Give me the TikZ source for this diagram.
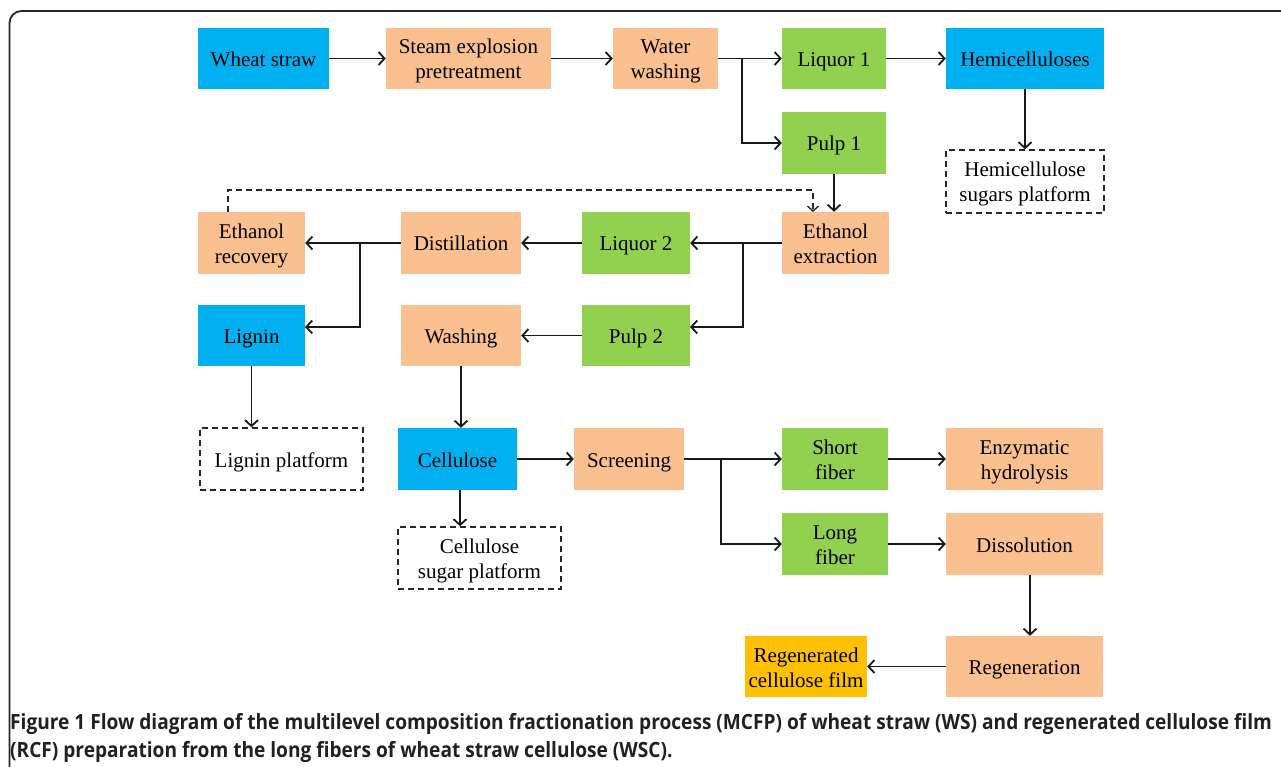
\documentclass[tikz,border=0pt]{standalone}
\usepackage{fontspec}
\setmainfont{Liberation Serif}
\newfontfamily\capfont[FakeStretch=0.91]{Open Sans}
\usetikzlibrary{arrows.meta}
\definecolor{cy}{HTML}{00B0F0}
\definecolor{pe}{HTML}{FAC090}
\definecolor{gr}{HTML}{92D050}
\definecolor{ye}{HTML}{FFC000}
\definecolor{captext}{HTML}{231F20}
\begin{document}
\begin{tikzpicture}[x=1pt,y=-1pt,
  box/.style={draw=none, minimum height=61pt, align=center, inner sep=0pt,
    font=\fontsize{21}{25}\selectfont, text height=27pt, text depth=11pt},
  two/.style={text height=50pt, text depth=9pt},
  cyb/.style={box, fill=cy},
  peb/.style={box, fill=pe},
  grb/.style={box, fill=gr},
  yeb/.style={box, fill=ye},
  dbox/.style={box, draw=black!85, line width=1.4pt, dash pattern=on 6pt off 4pt},
  arr/.style={line width=1.8pt, black!90, -{Straight Barb[length=6pt,width=13pt]}},
  darr/.style={line width=1.4pt, black!85, dash pattern=on 6pt off 4pt,
    -{Straight Barb[length=5pt,width=11pt]}},
  capline/.style={anchor=base west, inner sep=0pt, text=captext,
    font=\capfont\bfseries\fontsize{21}{26}\selectfont}
]
\useasboundingbox (0,0) rectangle (1281,767);
\begin{scope}
  \clip (0,0) rectangle (1281,767);
  \draw[line width=1.8pt, rounded corners=12pt, black!85] (9.5,11) rectangle (1320,820);
\end{scope}

% row 1
\node[cyb, minimum width=131pt] (ws) at (263.5,58.5) {Wheat straw};
\node[peb, two, minimum width=165pt] (steam) at (468.5,58.5) {Steam explosion\\pretreatment};
\node[peb, two, minimum width=105pt] (water) at (665.5,58.5) {Water\\washing};
\node[grb, minimum width=104pt] (liq1) at (834,58.5) {Liquor 1};
\node[cyb, minimum width=158pt] (hemi) at (1025,58.5) {Hemicelluloses};
\node[grb, minimum width=104pt, minimum height=62pt] (pulp1) at (834,143) {Pulp 1};
\node[dbox, two, minimum width=158pt, minimum height=63pt] (hsp) at (1025,181.5) {Hemicellulose\\sugars platform};

% row 3
\node[peb, two, minimum width=107pt, minimum height=62pt] (etex) at (835.5,243) {Ethanol\\extraction};
\node[grb, minimum width=108pt, minimum height=62pt] (liq2) at (636,243) {Liquor 2};
\node[peb, minimum width=120pt, minimum height=62pt] (dist) at (461,243) {Distillation};
\node[peb, two, minimum width=107pt, minimum height=62pt] (erec) at (251.5,243) {Ethanol\\recovery};

% row 4
\node[cyb, minimum width=107pt] (lig) at (251.5,335.5) {Lignin};
\node[peb, minimum width=120pt] (wash) at (461,335.5) {Washing};
\node[grb, minimum width=108pt] (pulp2) at (636,335.5) {Pulp 2};

% row 5
\node[dbox, minimum width=163pt, minimum height=62pt] (lp) at (281.5,459) {Lignin platform};
\node[cyb, minimum width=119pt, minimum height=62pt] (cell) at (457.5,459) {Cellulose};
\node[dbox, two, minimum width=163pt, minimum height=62pt] (csp) at (479.5,558) {Cellulose\\sugar platform};
\node[peb, minimum width=110pt, minimum height=62pt] (scr) at (629,459) {Screening};
\node[grb, two, minimum width=106pt, minimum height=62pt] (short) at (835,459) {Short\\fiber};
\node[peb, two, minimum width=157pt, minimum height=62pt] (enz) at (1024.5,459) {Enzymatic\\hydrolysis};
\node[grb, two, minimum width=106pt, minimum height=62pt] (long) at (835,544) {Long\\fiber};
\node[peb, minimum width=157pt, minimum height=62pt] (diss) at (1024.5,544) {Dissolution};
\node[peb, minimum width=157pt] (regen) at (1024.5,666.5) {Regeneration};
\node[yeb, two, minimum width=122pt] (rcf) at (806,666.5) {Regenerated\\cellulose film};

% connectors
\draw[arr] (ws) -- (steam);
\draw[arr] (steam) -- (water);
\draw[arr] (water) -- (liq1);
\coordinate (b1) at (742,58.5);
\draw[arr] (b1) |- (pulp1.west);
\draw[arr] (liq1) -- (hemi);
\draw[arr] (hemi.south) -- (hsp.north);
\draw[arr] (pulp1.south) -- (pulp1.south |- etex.north);
\coordinate (d1) at (228,212);
\coordinate (d2) at (813,212);
\draw[darr] (d1) -- ++(0,-22) -| (d2);

\draw[arr] (etex) -- (liq2);
\coordinate (b2) at (743,243);
\coordinate (p2in) at (690,327);
\draw[arr] (b2) |- (p2in);
\draw[arr] (liq2) -- (dist);
\draw[arr] (dist) -- (erec);
\coordinate (b3) at (360,243);
\coordinate (lgin) at (305,327);
\draw[arr] (b3) |- (lgin);
\draw[arr] (pulp2) -- (wash);

\draw[arr] (lig.south) -- (lig.south |- lp.north);
\draw[arr] (wash.south) -- (wash.south |- cell.north);
\coordinate (cs) at (460,490);
\draw[arr] (cs) -- (cs |- csp.north);
\draw[arr] (cell) -- (scr);
\draw[arr] (scr) -- (short);
\coordinate (b4) at (721,459);
\draw[arr] (b4) |- (long.west);
\draw[arr] (short) -- (enz);
\draw[arr] (long) -- (diss);
\coordinate (ds) at (1030,575);
\draw[arr] (ds) -- (ds |- regen.north);
\draw[arr] (regen) -- (rcf);

% caption
\node[capline] (cap1) at (10,729) {Figure 1 Flow diagram of the multilevel composition fractionation process (MCFP) of wheat straw (WS) and regenerated cellulose film};
\node[capline] (cap2) at (10,757) {(RCF) preparation from the long fibers of wheat straw cellulose (WSC).};
\end{tikzpicture}
\end{document}
